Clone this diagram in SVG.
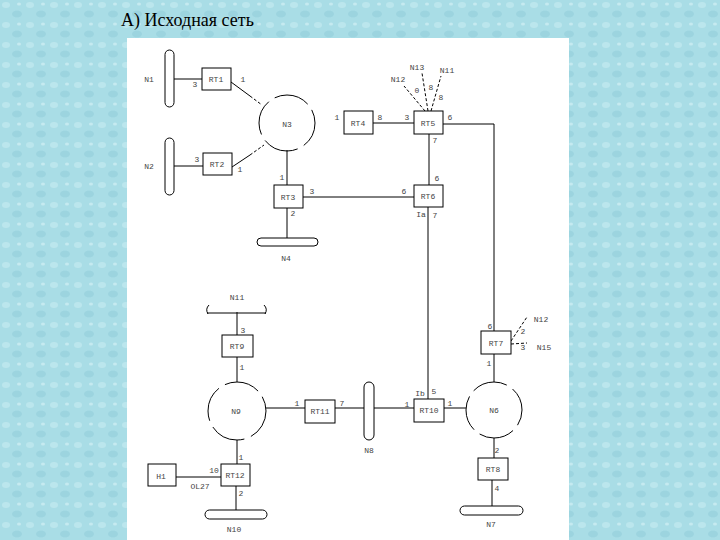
<svg xmlns="http://www.w3.org/2000/svg" width="720" height="540" viewBox="0 0 720 540">
<defs>
<pattern id="drops" width="24" height="20" patternUnits="userSpaceOnUse">
<rect width="24" height="20" fill="#a9dde6"/>
<ellipse cx="6" cy="5" rx="4" ry="3" fill="#c4eaf0" opacity="0.7"/>
<ellipse cx="17" cy="14" rx="5" ry="3.5" fill="#92cfda" opacity="0.6"/>
<ellipse cx="19" cy="4" rx="2" ry="1.5" fill="#d2f0f4" opacity="0.7"/>
</pattern>
<style>
.box{fill:#fff;stroke:#000;stroke-width:1}
.ln{fill:none;stroke:#000;stroke-width:1}
.dl{fill:none;stroke:#000;stroke-width:1;stroke-dasharray:3 2}
.ring{fill:none;stroke:#000;stroke-width:1;stroke-dasharray:36 7}
.bus{fill:#fff;stroke:#000;stroke-width:1}
.t{font-family:'Liberation Mono','DejaVu Sans Mono',monospace;font-size:8px;fill:#444;text-anchor:middle}
.title{font-family:'Liberation Serif','DejaVu Serif',serif;font-size:18px;fill:#000}
</style>
</defs>
<rect width="720" height="540" fill="url(#drops)"/>
<rect x="127" y="38" width="442" height="502" fill="#fff"/>
<text class="title" x="121" y="26">А) Исходная сеть</text>

<g id="connectors">
<line class="ln" x1="174" y1="79" x2="202" y2="79"/>
<line class="ln" x1="231" y1="82" x2="250" y2="96"/>
<line class="dl" x1="250" y1="96" x2="262" y2="105"/>
<line class="ln" x1="174" y1="166" x2="203" y2="166"/>
<line class="ln" x1="232" y1="167" x2="250" y2="155"/>
<line class="dl" x1="250" y1="155" x2="264" y2="145"/>
<line class="ln" x1="287" y1="150" x2="287" y2="185"/>
<line class="ln" x1="303" y1="197" x2="414" y2="197"/>
<line class="ln" x1="287" y1="208" x2="287" y2="238"/>
<line class="ln" x1="373" y1="123" x2="414" y2="123"/>
<polyline class="ln" points="443,124 494,124 494,331"/>
<line class="ln" x1="429" y1="134" x2="429" y2="185"/>
<line class="dl" x1="425" y1="111" x2="404" y2="86"/>
<line class="dl" x1="428" y1="111" x2="422" y2="73"/>
<line class="dl" x1="431" y1="111" x2="441" y2="76"/>
<line class="ln" x1="428" y1="207" x2="428" y2="399"/>
<line class="dl" x1="511" y1="341" x2="527" y2="317"/>
<line class="dl" x1="511" y1="344" x2="527" y2="343"/>
<line class="ln" x1="494" y1="354" x2="494" y2="382"/>
<line class="ln" x1="444" y1="408" x2="466" y2="408"/>
<line class="ln" x1="374" y1="408" x2="414" y2="408"/>
<line class="ln" x1="335" y1="408" x2="364" y2="408"/>
<line class="ln" x1="266" y1="408" x2="305" y2="408"/>
<line class="ln" x1="237" y1="312" x2="237" y2="335"/>
<line class="ln" x1="237" y1="357" x2="237" y2="382"/>
<line class="ln" x1="237" y1="440" x2="237" y2="464"/>
<line class="ln" x1="176" y1="477" x2="221" y2="477"/>
<line class="ln" x1="236" y1="486" x2="236" y2="510"/>
<line class="ln" x1="494" y1="438" x2="494" y2="458"/>
<line class="ln" x1="492" y1="480" x2="492" y2="506"/>
</g>

<g id="N1"><rect class="bus" x="165" y="50" width="9" height="57" rx="4.5"/><text class="t" x="149" y="82">N1</text></g>
<g id="N2"><rect class="bus" x="165" y="138" width="9" height="57" rx="4.5"/><text class="t" x="149" y="169">N2</text></g>
<g id="RT1"><rect class="box" x="202" y="68" width="29" height="22"/><text class="t" x="216" y="82">RT1</text><text class="t" x="195" y="87">3</text><text class="t" x="243" y="82">1</text></g>
<g id="RT2"><rect class="box" x="203" y="153" width="29" height="22"/><text class="t" x="217" y="167">RT2</text><text class="t" x="197" y="162">3</text><text class="t" x="240" y="172">1</text></g>
<g id="N3"><circle class="ring" cx="287" cy="123" r="28" stroke-dashoffset="10"/><text class="t" x="287" y="127">N3</text></g>
<g id="RT3"><rect class="box" x="274" y="185" width="29" height="23"/><text class="t" x="288" y="200">RT3</text><text class="t" x="282" y="180">1</text><text class="t" x="312" y="194">3</text><text class="t" x="293" y="216">2</text></g>
<g id="N4"><rect class="bus" x="257" y="238" width="61" height="8" rx="4"/><text class="t" x="286" y="261">N4</text></g>
<g id="RT4"><rect class="box" x="344" y="111" width="29" height="23"/><text class="t" x="358" y="126">RT4</text><text class="t" x="337" y="120">1</text><text class="t" x="380" y="120">8</text></g>
<g id="RT5"><rect class="box" x="414" y="111" width="29" height="23"/><text class="t" x="428" y="126">RT5</text><text class="t" x="407" y="120">3</text><text class="t" x="450" y="120">6</text><text class="t" x="435" y="143">7</text>
<text class="t" x="398" y="82">N12</text><text class="t" x="417" y="70">N13</text><text class="t" x="447" y="73">N11</text>
<text class="t" x="417" y="93">0</text><text class="t" x="431" y="90">8</text><text class="t" x="441" y="100">8</text></g>
<g id="RT6"><rect class="box" x="414" y="185" width="29" height="22"/><text class="t" x="428" y="199">RT6</text><text class="t" x="404" y="194">6</text><text class="t" x="437" y="181">6</text><text class="t" x="421" y="217">Ia</text><text class="t" x="435" y="218">7</text></g>
<g id="RT7"><rect class="box" x="481" y="331" width="30" height="23"/><text class="t" x="496" y="346">RT7</text><text class="t" x="490" y="329">6</text><text class="t" x="489" y="366">1</text><text class="t" x="523" y="334">2</text><text class="t" x="523" y="350">3</text><text class="t" x="541" y="322">N12</text><text class="t" x="544" y="350">N15</text></g>
<g id="N6"><circle class="ring" cx="494" cy="410" r="28" stroke-dashoffset="20"/><text class="t" x="494" y="413">N6</text></g>
<g id="RT10"><rect class="box" x="414" y="399" width="30" height="23"/><text class="t" x="429" y="413">RT10</text><text class="t" x="420" y="396">Ib</text><text class="t" x="434" y="394">5</text><text class="t" x="407" y="407">1</text><text class="t" x="450" y="406">1</text></g>
<g id="N8"><rect class="bus" x="364" y="382" width="10" height="58" rx="5"/><text class="t" x="369" y="453">N8</text></g>
<g id="RT11"><rect class="box" x="305" y="400" width="30" height="23"/><text class="t" x="320" y="414">RT11</text><text class="t" x="297" y="406">1</text><text class="t" x="342" y="406">7</text></g>
<g id="N9"><circle class="ring" cx="237" cy="411" r="29" stroke-dashoffset="5"/><text class="t" x="236" y="414">N9</text></g>
<g id="N11"><path class="ln" d="M207,313 L266,313 M209,305 Q205,309 208,314 M264,305 Q268,309 265,314"/><text class="t" x="237" y="300">N11</text></g>
<g id="RT9"><rect class="box" x="222" y="335" width="31" height="22"/><text class="t" x="237" y="349">RT9</text><text class="t" x="243" y="333">3</text><text class="t" x="242" y="370">1</text></g>
<g id="RT12"><rect class="box" x="221" y="464" width="29" height="22"/><text class="t" x="235" y="478">RT12</text><text class="t" x="241" y="460">1</text><text class="t" x="214" y="473">10</text><text class="t" x="241" y="496">2</text><text class="t" x="200" y="489">OL27</text></g>
<g id="H1"><rect class="box" x="148" y="464" width="28" height="22"/><text class="t" x="161" y="479">H1</text></g>
<g id="N10"><rect class="bus" x="205" y="510" width="62" height="9" rx="4.5"/><text class="t" x="234" y="532">N10</text></g>
<g id="RT8"><rect class="box" x="478" y="458" width="30" height="22"/><text class="t" x="493" y="472">RT8</text><text class="t" x="497" y="453">2</text><text class="t" x="497" y="491">4</text></g>
<g id="N7"><rect class="bus" x="460" y="506" width="63" height="9" rx="4.5"/><text class="t" x="491" y="527">N7</text></g>
</svg>
